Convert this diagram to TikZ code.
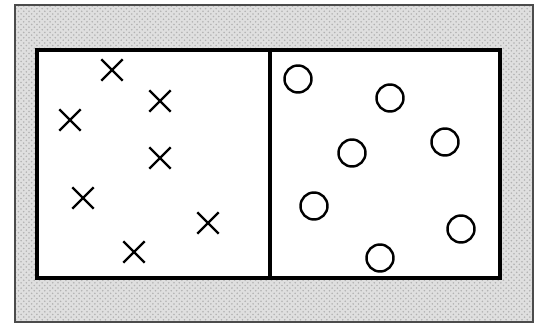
\documentclass[tikz,border=0pt]{standalone}
\usepackage{tikz}
\usetikzlibrary{shapes.misc,patterns}
\tikzset{
  frame/.style={fill=gray!25, draw=black!70, line width=0.6pt},
  box/.style={fill=white, draw=black, line width=1.8pt},
  wall/.style={draw=black, line width=2.4pt},
  xmark/.style={cross out, draw=black, line width=1.4pt, minimum size=0.38cm, inner sep=0pt},
  omark/.style={circle, draw=black, line width=1.4pt, minimum size=0.54cm, inner sep=0pt}
}

\begin{document}
\begin{tikzpicture}
  \useasboundingbox (0,0) rectangle (10.70,6.50);
  % speckled surround
  \fill[frame] (0.30,0.06) rectangle (10.66,6.40);
  \fill[pattern=crosshatch dots, pattern color=gray!60] (0.30,0.06) rectangle (10.66,6.40);
  \draw[draw=black!70, line width=0.6pt] (0.30,0.06) rectangle (10.66,6.40);
  \draw[box] (0.74,0.94) rectangle (10.00,5.50);
  \coordinate (Wtop) at (5.40,5.50);
  \coordinate (Wbot) at (5.40,0.94);
  \draw[wall] (Wtop) -- (Wbot);
  % left side
  \node[xmark] (X1) at (2.24,5.10) {};
  \node[xmark] (X2) at (3.20,4.48) {};
  \node[xmark] (X3) at (1.40,4.10) {};
  \node[xmark] (X4) at (3.20,3.34) {};
  \node[xmark] (X5) at (1.66,2.54) {};
  \node[xmark] (X6) at (4.16,2.04) {};
  \node[xmark] (X7) at (2.68,1.46) {};
  % right side
  \node[omark] (O1) at (5.96,4.92) {};
  \node[omark] (O2) at (7.80,4.54) {};
  \node[omark] (O3) at (8.90,3.66) {};
  \node[omark] (O4) at (7.04,3.44) {};
  \node[omark] (O5) at (6.28,2.38) {};
  \node[omark] (O6) at (9.22,1.92) {};
  \node[omark] (O7) at (7.60,1.34) {};
\end{tikzpicture}
\end{document}
